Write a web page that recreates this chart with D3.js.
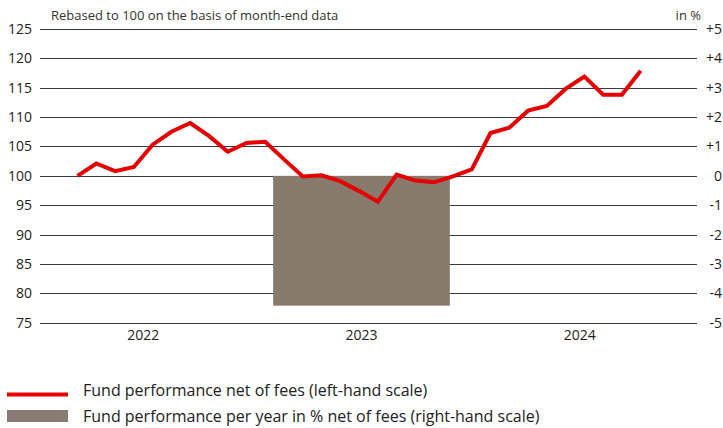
<!DOCTYPE html>
<html>
<head>
<meta charset="utf-8">
<script src="https://cdn.jsdelivr.net/npm/d3@7"></script>
<style>
  body { margin: 0; background: #fff; }
  text { font-family: "Open Sans", "Noto Sans", sans-serif; fill: #222; }
</style>
</head>
<body>
<div id="chart"></div>
<script>
// DATA
// month-end index values, rebased to 100 (31 month ends)
let indexValues = [
  100, 102.1, 100.8, 101.5, 105.3, 107.5, 109.0, 106.8, 104.1, 105.6, 105.8,
  102.8, 99.9, 100.1, 99.1, 97.4, 95.6, 100.2, 99.2, 98.9, 99.9, 101.1,
  107.3, 108.2, 111.1, 111.9, 114.8, 116.9, 113.8, 113.8, 117.9
];
let years = ['2022', '2023', '2024'];
let annualYears = ['2023'];
let annualValues = [-4.42];
let leftTicks = [75, 80, 85, 90, 95, 100, 105, 110, 115, 120, 125];
let rightTicks = [-5, -4, -3, -2, -1, 0, 1, 2, 3, 4, 5];

// DIMENSIONS
let width = 723,
    height = 428,
    plotLeft = 40,
    plotRight = 697,
    plotTop = 29,
    plotBottom = 322.7;

let svg = d3.select('#chart')
  .append('svg')
  .attr('width', width)
  .attr('height', height);

// Scales
let xScale = d3.scaleLinear()
  .domain([-2, 33])
  .range([plotLeft, plotRight]);

let yearScale = d3.scaleBand()
  .domain(years)
  .range([55, 668])
  .paddingInner(0.19);

let yLeft = d3.scaleLinear()
  .domain([75, 125])
  .range([plotBottom, plotTop]);

let yRight = d3.scaleLinear()
  .domain([-5, 5])
  .range([plotBottom, plotTop]);

// Gridlines
svg.append('g')
  .selectAll('line')
  .data(leftTicks)
  .enter()
  .append('line')
  .attr('x1', plotLeft)
  .attr('x2', plotRight)
  .attr('y1', (d) => Math.round(yLeft(d)) + 0.5)
  .attr('y2', (d) => Math.round(yLeft(d)) + 0.5)
  .attr('stroke', '#3a3a3a')
  .attr('stroke-width', 1.2);

// Left axis labels
svg.append('g')
  .selectAll('text')
  .data(leftTicks)
  .enter()
  .append('text')
  .attr('x', 32)
  .attr('y', (d) => yLeft(d) + 5)
  .attr('text-anchor', 'end')
  .style('font-size', '14px')
  .text((d) => d);

// Right axis labels
svg.append('g')
  .selectAll('text')
  .data(rightTicks)
  .enter()
  .append('text')
  .attr('x', 722)
  .attr('y', (d) => yRight(d) + 5)
  .attr('text-anchor', 'end')
  .style('font-size', '14px')
  .text((d) => (d > 0 ? '+' + d : d));

// Year labels
svg.append('g')
  .selectAll('text')
  .data(years)
  .enter()
  .append('text')
  .attr('x', (d) => yearScale(d) + yearScale.bandwidth() / 2)
  .attr('y', 340)
  .attr('text-anchor', 'middle')
  .style('font-size', '14px')
  .text((d) => d);

// Axis titles
svg.append('text')
  .attr('x', 51)
  .attr('y', 20)
  .style('font-size', '13px')
  .style('fill', '#333')
  .text('Rebased to 100 on the basis of month-end data');

svg.append('text')
  .attr('x', 701)
  .attr('y', 20)
  .attr('text-anchor', 'end')
  .style('font-size', '13px')
  .style('fill', '#333')
  .text('in %');

// Annual performance bar (right-hand scale)
svg.append('g')
  .selectAll('rect')
  .data(annualValues)
  .enter()
  .append('rect')
  .attr('x', (d, i) => yearScale(annualYears[i]))
  .attr('width', yearScale.bandwidth())
  .attr('y', (d) => yRight(Math.max(0, d)))
  .attr('height', (d) => Math.abs(yRight(d) - yRight(0)))
  .attr('fill', '#887b6d');

// Fund line (left-hand scale)
let line = d3.line()
  .x((d, i) => xScale(i))
  .y((d) => yLeft(d));

svg.append('path')
  .datum(indexValues)
  .attr('fill', 'none')
  .attr('stroke', '#e60000')
  .attr('stroke-width', 4)
  .attr('stroke-linejoin', 'miter')
  .attr('d', line);

// Legend
let legend = svg.append('g');

legend.append('line')
  .attr('x1', 7)
  .attr('x2', 68)
  .attr('y1', 394.5)
  .attr('y2', 394.5)
  .attr('stroke', '#e60000')
  .attr('stroke-width', 4);

legend.append('text')
  .attr('x', 83)
  .attr('y', 396)
  .style('font-size', '16px')
  .text('Fund performance net of fees (left-hand scale)');

legend.append('rect')
  .attr('x', 7)
  .attr('y', 410)
  .attr('width', 61)
  .attr('height', 12)
  .attr('fill', '#887b6d');

legend.append('text')
  .attr('x', 83)
  .attr('y', 422)
  .style('font-size', '16px')
  .text('Fund performance per year in % net of fees (right-hand scale)');
</script>
</body>
</html>
